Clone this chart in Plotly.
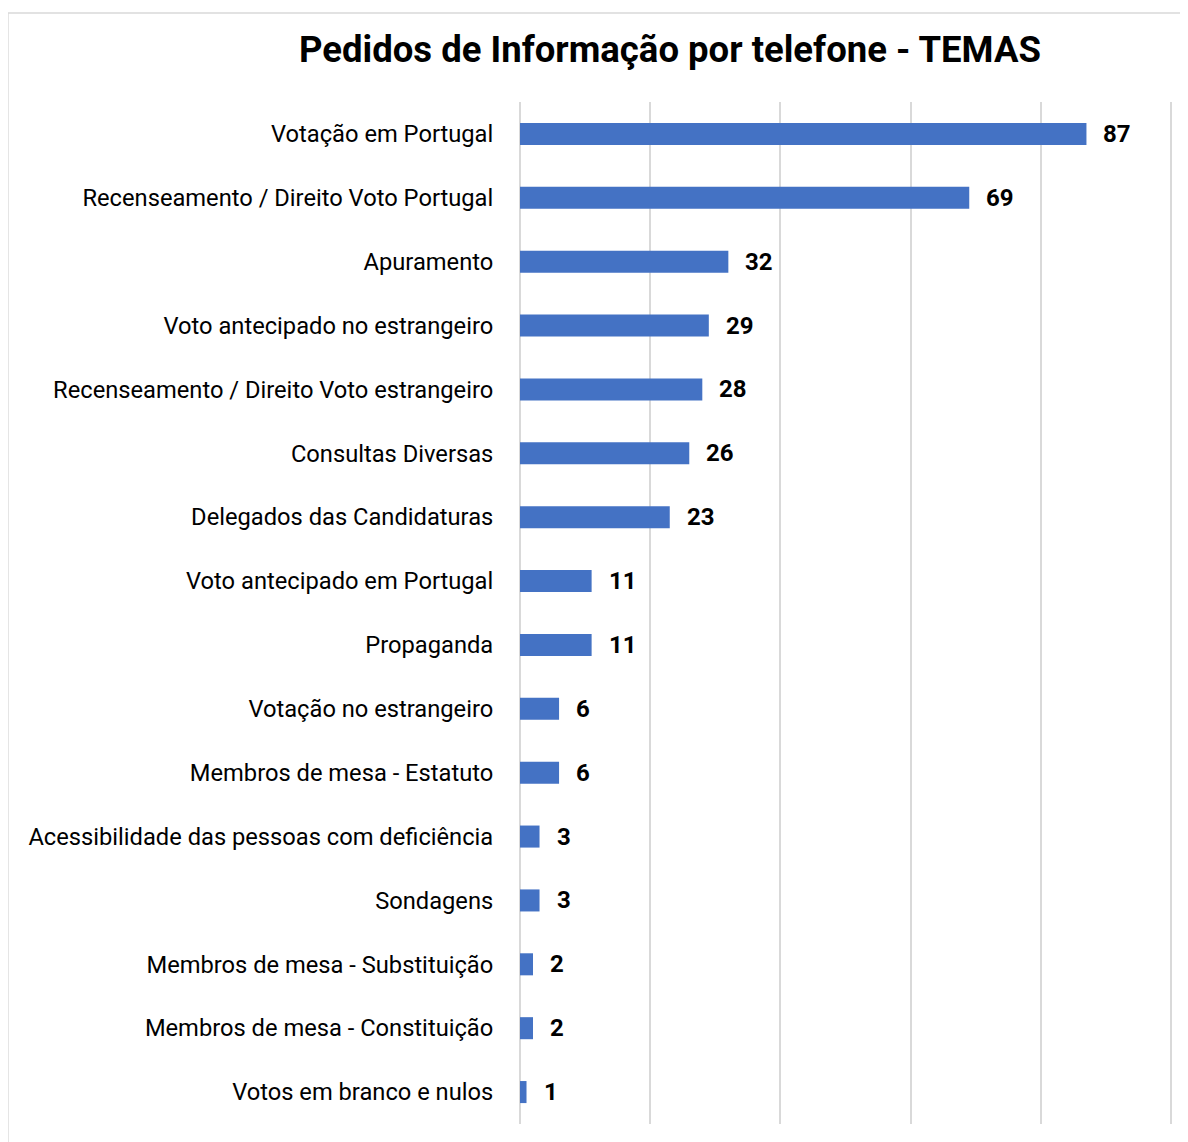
import plotly.graph_objects as go

categories = [
    "Votação em Portugal",
    "Recenseamento / Direito Voto Portugal",
    "Apuramento",
    "Voto antecipado no estrangeiro",
    "Recenseamento / Direito Voto estrangeiro",
    "Consultas Diversas",
    "Delegados das Candidaturas",
    "Voto antecipado em Portugal",
    "Propaganda",
    "Votação no estrangeiro",
    "Membros de mesa - Estatuto",
    "Acessibilidade das pessoas com deficiência",
    "Sondagens",
    "Membros de mesa - Substituição",
    "Membros de mesa - Constituição",
    "Votos em branco e nulos",
]
values = [87, 69, 32, 29, 28, 26, 23, 11, 11, 6, 6, 3, 3, 2, 2, 1]
title = "Pedidos de Informação por telefone - TEMAS"

W, H = 1188, 1142
OFF = 8  # page body margin offset
XMAX = 100.6
# target screen pixels: x=0 at 520, x=100 at 1171; plot top 102, bottom 1124
px0, px100 = 520 - OFF, 1171 - OFF
scale = (px100 - px0) / 100.0
L = px0
pw = scale * XMAX
R = W - L - pw
T = 102 - OFF
B = H - (1124 - OFF)
ph = H - T - B

def px_x(p):
    return (p - OFF - L) / pw

def px_y(p):
    return (H - B - (p - OFF)) / ph

FONT = "Roboto"

fig = go.Figure(go.Bar(
    y=categories, x=values, orientation="h",
    marker=dict(color="#4472C4", line=dict(width=0)),
    width=0.345,
    hoverinfo="x+y",
))

annotations = [
    dict(x=v, y=c, xref="x", yref="y", text=f"<b>{v}</b>", showarrow=False,
         xanchor="left", yanchor="middle", xshift=15,
         font=dict(family=FONT, size=24, color="#000000"))
    for c, v in zip(categories, values)
]
annotations.append(dict(
    x=px_x(670), y=px_y(50), xref="paper", yref="paper",
    text=f"<b>{title}</b>", showarrow=False, xanchor="center", yanchor="middle",
    font=dict(family=FONT, size=36.5, color="#000000"),
))

fig.update_layout(
    width=W, height=H,
    margin=dict(l=L, r=R, t=T, b=B),
    paper_bgcolor="white", plot_bgcolor="white",
    showlegend=False,
    annotations=annotations,
    shapes=[dict(type="rect", xref="paper", yref="paper",
                 x0=px_x(8), x1=px_x(1210), y0=px_y(1160), y1=px_y(13),
                 line=dict(color="#d9d9d9", width=1.5), fillcolor="rgba(0,0,0,0)",
                 layer="below")],
    xaxis=dict(range=[0, XMAX], dtick=20, tick0=0, showticklabels=False,
               showgrid=True, gridcolor="#d9d9d9", gridwidth=1.5,
               zeroline=True, zerolinecolor="#d9d9d9", zerolinewidth=1.5,
               showline=False, ticks=""),
    yaxis=dict(autorange="reversed", showgrid=False, zeroline=False,
               showline=False, ticks="outside", ticklen=21, tickcolor="rgba(0,0,0,0)",
               tickfont=dict(family=FONT, size=23.7, color="#000000")),
)

fig.write_html("out.html")
